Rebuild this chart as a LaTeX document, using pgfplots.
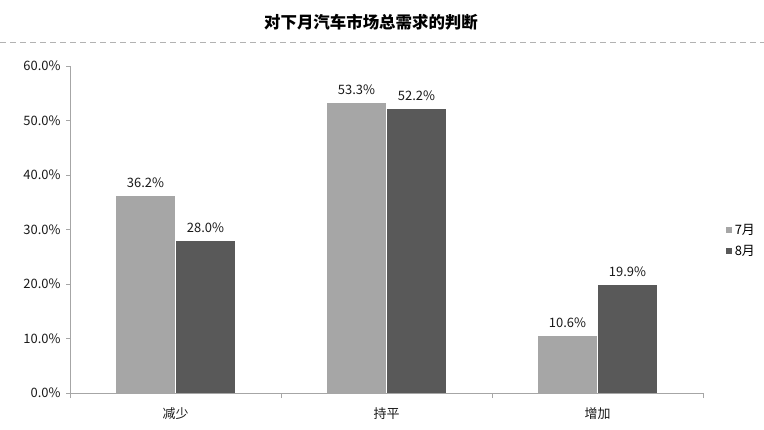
\documentclass[border=0pt]{standalone}
\usepackage{fontspec}
\setmainfont{Noto Sans CJK SC}
\usepackage{pgfplots}
\pgfplotsset{compat=1.18}
\definecolor{cA}{HTML}{A6A6A6}
\definecolor{cB}{HTML}{595959}
\definecolor{axisgray}{HTML}{A6A6A6}
\begin{document}
\begin{tikzpicture}
\useasboundingbox (0,0) rectangle (764bp,430bp);
\node[font=\fontsize{16.5}{18}\selectfont\bfseries] at (371bp,408bp) {对下月汽车市场总需求的判断};
\draw[color=black!30, line width=1bp, dash pattern=on 6bp off 4bp] (0,387bp) -- (764bp,387bp);
\begin{axis}[
  at={(70bp,37bp)}, anchor=south west,
  scale only axis, width=633bp, height=327bp,
  ybar=0pt, bar width=60bp,
  xmin=-0.5, xmax=2.5, ymin=0, ymax=60,
  axis lines*=left,
  axis line style={color=axisgray, line width=0.8bp},
  xtick={0,1,2}, xticklabels={减少,持平,增加},
  minor xtick={-0.5,0.5,1.5,2.5},
  major x tick style={draw=none},
  minor x tick style={color=axisgray, line width=0.8bp},
  ytick={0,10,20,30,40,50,60},
  y tick style={color=axisgray, line width=0.8bp},
  tick align=outside,
  major tick length=4bp, minor tick length=5bp,
  yticklabel={\pgfmathprintnumber[fixed,fixed zerofill,precision=1]{\tick}\%},
  /pgf/number format/assume math mode=true,
  tick label style={font=\fontsize{13}{15}\selectfont, text=black!90},
  xticklabel style={yshift=-7bp},
  yticklabel style={xshift=-2bp},
  nodes near coords={\pgfmathprintnumber[fixed,fixed zerofill,precision=1]{\pgfplotspointmeta}\%},
  nodes near coords style={font=\fontsize{13}{15}\selectfont, text=black!90, yshift=4bp},
  legend style={at={(1.03,0.466)}, anchor=west, draw=none, fill=none,
    font=\fontsize{13}{15}\selectfont, row sep=5bp,
    /tikz/every even column/.append style={column sep=2bp}},
  legend cell align=left,
  legend image code/.code={\fill[#1] (0bp,-3.5bp) rectangle (7bp,3.5bp);},
]
\addplot[fill=cA, draw=white, line width=0.6bp] coordinates {(0,36.2) (1,53.3) (2,10.6)};
\addplot[fill=cB, draw=white, line width=0.6bp] coordinates {(0,28.0) (1,52.2) (2,19.9)};
\legend{7月,8月}
\end{axis}
\end{tikzpicture}
\end{document}
